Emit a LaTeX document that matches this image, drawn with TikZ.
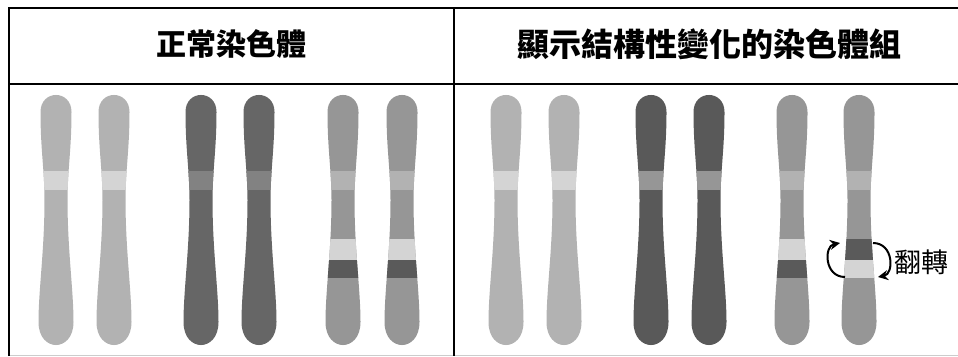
\documentclass[tikz,border=0pt]{standalone}
\usepackage{fontspec}
\newfontfamily\cjk{Noto Sans CJK TC}
\usetikzlibrary{arrows.meta}

\definecolor{lightbody}{HTML}{B2B2B2}
\definecolor{lightcen}{HTML}{D4D4D4}
\definecolor{darkbody}{HTML}{666666}
\definecolor{darkcen}{HTML}{828282}
\definecolor{darkerbody}{HTML}{595959}
\definecolor{darkercen}{HTML}{969696}
\definecolor{midbody}{HTML}{969696}
\definecolor{midcen}{HTML}{B2B2B2}
\definecolor{paleband}{HTML}{D4D4D4}
\definecolor{deepband}{HTML}{5A5A5A}

\tikzset{
  frame/.style={line width=2.6pt, black},
  title/.style={font=\cjk\bfseries\fontsize{30}{32}\selectfont},
  flip/.style={line width=2pt, -{Stealth[length=10pt, width=10pt]}},
}

% one chromosome: x position, body colour, centromere colour, extra bands
\newcommand{\chrom}[4]{%
  \begin{scope}[shift={(#1,0)}]
    \clip (-15.5,112) .. controls (-15.5,89.3) and (15.5,89.3) .. (15.5,112)
      .. controls (15.5,150) and (11.5,170) .. (11.5,200)
      .. controls (11.5,250) and (17.5,290) .. (17.5,322)
      .. controls (17.5,352.7) and (-17.5,352.7) .. (-17.5,322)
      .. controls (-17.5,290) and (-11.5,250) .. (-11.5,200)
      .. controls (-11.5,170) and (-15.5,150) .. (-15.5,112) -- cycle;
    \fill[#2] (-20,90) rectangle (20,350);
    \fill[#3] (-20,171) rectangle (20,190);
    #4
  \end{scope}}

\begin{document}
\begin{tikzpicture}[x=1pt, y=-1pt]
    \useasboundingbox (0,0) rectangle (958,356);

    % table frame
    \draw[black!20, line width=1pt] (9,355.5) -- (970,355.5);
    \draw[frame] (9,356) -- (9,8) -- (970,8);
    \draw[frame] (9,84) -- (970,84);
    \draw[frame] (454,8) -- (454,356);

    \node[title] (normal) at (231.5,44) {正常染色體};
    \node[title, font=\cjk\bfseries\fontsize{32}{34}\selectfont] (changed) at (709,44) {顯示結構性變化的染色體組};

    % normal set
    \foreach \x in {56,114} {\chrom{\x}{lightbody}{lightcen}{}}
    \foreach \x in {201,259} {\chrom{\x}{darkbody}{darkcen}{}}
    \foreach \x in {343,402} {\chrom{\x}{midbody}{midcen}{%
        \fill[paleband] (-20,239) rectangle (20,260);
        \fill[deepband] (-20,260) rectangle (20,278);}}

    % set with the inversion
    \foreach \x in {506,564} {\chrom{\x}{lightbody}{lightcen}{}}
    \foreach \x in {651,709} {\chrom{\x}{darkerbody}{darkercen}{}}
    \chrom{792}{midbody}{midcen}{%
        \fill[paleband] (-20,239) rectangle (20,260);
        \fill[deepband] (-20,260) rectangle (20,278);}
    \chrom{859}{midbody}{midcen}{%
        \fill[deepband] (-20,239) rectangle (20,260);
        \fill[paleband] (-20,260) rectangle (20,278);}

    \coordinate (l1) at (845,277);
    \coordinate (l2) at (840,243);
    \coordinate (r1) at (873,243);
    \coordinate (r2) at (878,277);
    \draw[flip] (l1) .. controls (824,277) and (824,246) .. (l2);
    \draw[flip] (r1) .. controls (894,243) and (894,274) .. (r2);
    \node[font=\cjk\fontsize{27}{29}\selectfont] (inv) at (921,262) {翻轉};
\end{tikzpicture}
\end{document}
